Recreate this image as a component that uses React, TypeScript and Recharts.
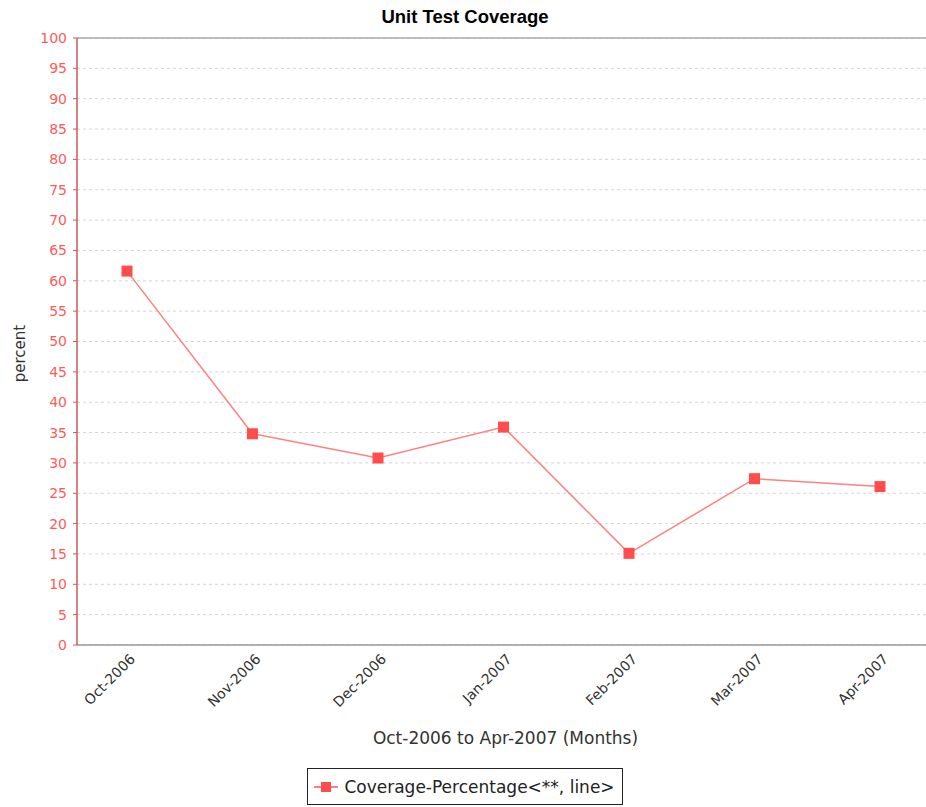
import React from 'react';
import { LineChart, Line, XAxis, YAxis, CartesianGrid, Legend, ReferenceLine, Label } from 'recharts';

const months = ['Oct-2006', 'Nov-2006', 'Dec-2006', 'Jan-2007', 'Feb-2007', 'Mar-2007', 'Apr-2007'];
const coverage = [61.6, 34.8, 30.8, 35.9, 15.1, 27.4, 26.1];
const yTicks = [0, 5, 10, 15, 20, 25, 30, 35, 40, 45, 50, 55, 60, 65, 70, 75, 80, 85, 90, 95, 100];

const seriesName = 'Coverage-Percentage<**, line>';
const data = months.map((m, i) => ({ month: m, value: coverage[i] }));

const FONT = '"DejaVu Sans", sans-serif';
const LINE_COLOR = '#ff8080';
const MARK_COLOR = '#ff4d4d';

const SquareDot = (props: any) => {
  const { cx, cy } = props;
  if (cx == null || cy == null) return null;
  return <rect x={cx - 5.5} y={cy - 5.5} width={11} height={11} fill={MARK_COLOR} />;
};

const XTick = (props: any) => {
  const { x, y, payload } = props;
  return (
    <g transform={`translate(${x + 9},${y + 15})`}>
      <text x={0} y={0} transform="rotate(-45)" textAnchor="end" fill="#333" fontSize={14} fontFamily={FONT}>
        {payload.value}
      </text>
    </g>
  );
};

const LegendBox = () => (
  <div style={{ display: 'flex', justifyContent: 'center', height: 40 }}>
    <div
      style={{
        marginTop: 1,
        marginLeft: 4,
        border: '1.5px solid #222',
        height: 37,
        display: 'flex',
        alignItems: 'center',
        padding: '0 7px 0 6px',
        fontFamily: FONT,
        fontSize: 17,
        color: '#222',
        boxSizing: 'border-box',
      }}
    >
      <svg width={24} height={12} style={{ marginRight: 6 }}>
        <line x1={0} y1={6} x2={24} y2={6} stroke={LINE_COLOR} strokeWidth={2} />
        <rect x={7} y={1} width={10} height={10} fill={MARK_COLOR} />
      </svg>
      <span>{seriesName}</span>
    </div>
  </div>
);

export default function App() {
  return (
    <div style={{ position: 'absolute', left: 0, top: 0, background: '#fff' }}>
      <LineChart width={926} height={807} data={data} margin={{ top: 38, right: 0, left: 0, bottom: 0 }}>
        <text x={465} y={23} textAnchor="middle" fontFamily='"Liberation Sans", Arial, sans-serif' fontWeight="bold" fontSize={18.5} fill="#000">
          Unit Test Coverage
        </text>
        <CartesianGrid vertical={false} stroke="#d4d4d4" strokeDasharray="3 3" />
        <XAxis
          dataKey="month"
          scale="point"
          padding={{ left: 50, right: 46 }}
          height={122}
          interval={0}
          tickLine={false}
          tickSize={0}
          tickMargin={0}
          tick={<XTick />}
          axisLine={{ stroke: '#999', strokeWidth: 1.5 }}
        >
          <Label
            value="Oct-2006 to Apr-2007 (Months)"
            position="insideBottom"
            offset={23}
            dx={4}
            fill="#333"
            fontSize={17}
            fontFamily={FONT}
          />
        </XAxis>
        <YAxis
          domain={[0, 100]}
          ticks={yTicks}
          interval={0}
          width={77}
          tickSize={4}
          tickMargin={6}
          tick={{ fill: '#ff5a5a', fontSize: 14, fontFamily: FONT }}
          tickLine={{ stroke: '#c85a5a' }}
          axisLine={{ stroke: '#c85a5a', strokeWidth: 1.5 }}
        >
          <Label
            content={(p: any) => {
              const vb = p.viewBox;
              const cx = vb.x + 20;
              const cy = vb.y + vb.height / 2 + 12;
              return (
                <text x={cx} y={cy} transform={`rotate(-90, ${cx}, ${cy})`} textAnchor="middle" dominantBaseline="central" fill="#333" fontSize={15} fontFamily={FONT}>
                  percent
                </text>
              );
            }}
          />
        </YAxis>
        <ReferenceLine y={100} stroke="#aaa" strokeWidth={1.5} />
        <Legend verticalAlign="bottom" content={<LegendBox />} />
        <Line
          type="linear"
          dataKey="value"
          name={seriesName}
          stroke={LINE_COLOR}
          strokeWidth={1.5}
          dot={<SquareDot />}
          activeDot={false}
          isAnimationActive={false}
        />
      </LineChart>
    </div>
  );
}
